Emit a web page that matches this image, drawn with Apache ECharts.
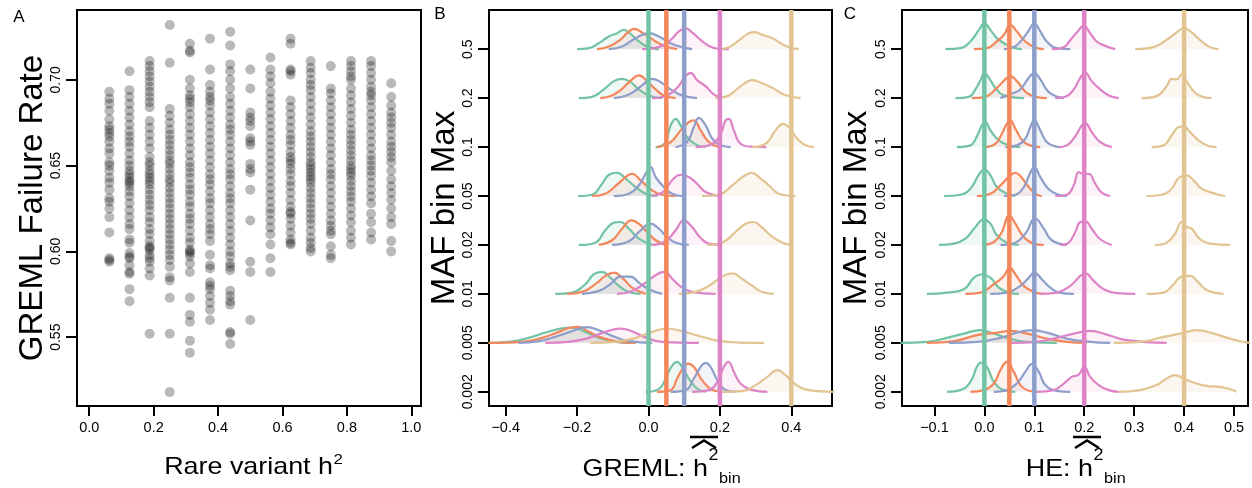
<!DOCTYPE html>
<html><head><meta charset="utf-8">
<script src="https://cdn.jsdelivr.net/npm/echarts@6/dist/echarts.min.js"></script>
<style>html,body{margin:0;padding:0;background:#fff}#c{width:1252px;height:488px}</style>
</head><body><div id="c"></div>
<script>
// ---------- Panel A data ----------
const scatterH2 = [0.0625,0.125,0.1875,0.25,0.3125,0.375,0.4375,0.5,0.5625,0.625,0.6875,0.75,0.8125,0.875,0.9375];
const failureRates = [
 [0.693,0.689,0.686,0.682,0.677,0.673,0.671,0.669,0.667,0.664,0.660,0.657,0.652,0.650,0.647,0.643,0.640,0.636,0.631,0.629,0.625,0.620,0.611,0.596,0.595,0.594],
 [0.705,0.694,0.690,0.686,0.682,0.678,0.674,0.670,0.667,0.664,0.661,0.657,0.653,0.650,0.647,0.645,0.643,0.641,0.640,0.638,0.635,0.632,0.628,0.624,0.620,0.616,0.613,0.607,0.605,0.599,0.597,0.596,0.592,0.588,0.587,0.578,0.571],
 [0.711,0.708,0.705,0.702,0.699,0.696,0.693,0.690,0.687,0.684,0.676,0.672,0.668,0.664,0.660,0.655,0.652,0.650,0.647,0.645,0.643,0.641,0.639,0.636,0.633,0.630,0.627,0.624,0.620,0.617,0.613,0.610,0.606,0.603,0.602,0.601,0.598,0.596,0.594,0.590,0.586,0.552],
 [0.732,0.710,0.683,0.679,0.675,0.671,0.668,0.665,0.662,0.659,0.656,0.653,0.651,0.648,0.645,0.642,0.640,0.637,0.634,0.631,0.628,0.625,0.622,0.619,0.616,0.613,0.610,0.607,0.604,0.601,0.598,0.595,0.591,0.585,0.583,0.573,0.552,0.518],
 [0.721,0.717,0.716,0.700,0.695,0.691,0.689,0.687,0.684,0.680,0.676,0.672,0.668,0.664,0.660,0.656,0.652,0.649,0.646,0.643,0.639,0.636,0.633,0.629,0.626,0.622,0.619,0.616,0.612,0.608,0.605,0.601,0.600,0.599,0.597,0.593,0.588,0.573,0.563,0.559,0.548,0.541],
 [0.724,0.706,0.697,0.693,0.690,0.688,0.685,0.681,0.677,0.673,0.669,0.665,0.661,0.657,0.653,0.649,0.645,0.642,0.639,0.635,0.631,0.628,0.624,0.620,0.616,0.613,0.610,0.606,0.598,0.592,0.590,0.582,0.580,0.578,0.574,0.570,0.566,0.560],
 [0.728,0.720,0.709,0.705,0.700,0.695,0.690,0.686,0.682,0.678,0.674,0.671,0.668,0.664,0.660,0.656,0.652,0.648,0.645,0.642,0.638,0.634,0.631,0.628,0.624,0.620,0.616,0.612,0.608,0.604,0.600,0.597,0.593,0.591,0.589,0.577,0.574,0.571,0.569,0.553,0.552,0.546],
 [0.706,0.695,0.681,0.678,0.676,0.673,0.666,0.664,0.662,0.651,0.648,0.646,0.636,0.618,0.594,0.588,0.560],
 [0.713,0.706,0.702,0.698,0.693,0.689,0.685,0.681,0.677,0.673,0.669,0.665,0.661,0.657,0.653,0.649,0.645,0.641,0.637,0.633,0.629,0.625,0.622,0.618,0.614,0.610,0.604,0.596,0.588],
 [0.724,0.721,0.706,0.705,0.703,0.688,0.684,0.680,0.676,0.672,0.668,0.665,0.662,0.658,0.655,0.653,0.651,0.648,0.645,0.641,0.638,0.634,0.630,0.626,0.623,0.622,0.619,0.615,0.611,0.607,0.605,0.604],
 [0.711,0.707,0.704,0.700,0.697,0.694,0.690,0.686,0.682,0.678,0.674,0.670,0.667,0.664,0.661,0.658,0.655,0.652,0.650,0.648,0.646,0.644,0.642,0.640,0.637,0.634,0.631,0.628,0.625,0.622,0.619,0.616,0.612,0.608,0.605,0.602,0.600],
 [0.708,0.695,0.692,0.688,0.684,0.680,0.676,0.672,0.668,0.664,0.660,0.656,0.652,0.648,0.645,0.642,0.638,0.634,0.630,0.626,0.622,0.618,0.615,0.612,0.610,0.603,0.598,0.596],
 [0.711,0.708,0.705,0.702,0.700,0.695,0.691,0.687,0.683,0.679,0.675,0.671,0.668,0.665,0.662,0.659,0.656,0.653,0.650,0.648,0.646,0.644,0.641,0.638,0.635,0.632,0.629,0.625,0.621,0.617,0.612,0.608,0.604],
 [0.711,0.708,0.704,0.700,0.696,0.693,0.691,0.688,0.684,0.680,0.676,0.672,0.668,0.664,0.660,0.656,0.653,0.650,0.647,0.644,0.640,0.636,0.632,0.628,0.622,0.617,0.611,0.607],
 [0.698,0.690,0.685,0.681,0.678,0.675,0.672,0.668,0.664,0.661,0.658,0.655,0.652,0.647,0.642,0.638,0.634,0.630,0.625,0.620,0.616,0.606,0.600]
];
const xTicksA = [0,0.2,0.4,0.6,0.8,1.0];
const yTicksA = [0.55,0.60,0.65,0.70];

// ---------- Panels B & C data ----------
const mafBins = ['0.002','0.005','0.01','0.02','0.05','0.1','0.2','0.5'];
const trueH2 = [0, 0.05, 0.1, 0.2, 0.4];
const xTicksB = [-0.4,-0.2,0,0.2,0.4];
const xTicksC = [-0.1,0,0.1,0.2,0.3,0.4,0.5];
// each curve: [estimate, density height] pairs; rows bottom (0.002) to top (0.5)
const gremlGreen = [
 [[-0.008,0],[0.029,2.7],[0.048,13.3],[0.064,25],[0.080,30],[0.094,25],[0.113,13.3],[0.136,3.3],[0.160,0]],
 [[-0.448,0],[-0.392,1],[-0.336,5],[-0.289,10.3],[-0.247,14.3],[-0.214,15.3],[-0.177,11],[-0.139,5],[-0.093,1],[-0.046,0]],
 [[-0.261,0],[-0.214,1.3],[-0.177,9.7],[-0.153,19.7],[-0.130,22],[-0.107,16.3],[-0.083,8],[-0.055,2],[-0.022,0]],
 [[-0.195,0],[-0.149,2.3],[-0.121,14.7],[-0.097,22.3],[-0.079,23],[-0.055,16.3],[-0.027,6.3],[0.010,0]],
 [[-0.197,0],[-0.158,1.3],[-0.130,12.3],[-0.111,21.3],[-0.088,23.3],[-0.064,17.3],[-0.036,9],[-0.008,2.3],[0.024,0]],
 [[0.020,0],[0.035,1],[0.048,5],[0.062,21.7],[0.076,28.3],[0.090,21.7],[0.108,10],[0.132,2.7],[0.160,0]],
 [[-0.195,0],[-0.158,1.3],[-0.125,8.7],[-0.097,17],[-0.074,19.3],[-0.050,16],[-0.027,8.7],[0.001,2.7],[0.038,0]],
 [[-0.200,0],[-0.167,1],[-0.139,6],[-0.111,12.7],[-0.088,16],[-0.069,19.3],[-0.050,15.3],[-0.032,9.3],[-0.008,3.3],[0.020,0.3],[0.029,0]]
];
const gremlOrange = [
 [[0.024,0],[0.062,1.7],[0.080,13.3],[0.099,25],[0.111,28.3],[0.127,25],[0.150,11.7],[0.179,1.7],[0.207,0]],
 [[-0.448,0],[-0.354,1],[-0.298,5],[-0.251,11],[-0.219,15.3],[-0.195,16],[-0.167,11],[-0.130,5],[-0.083,1],[-0.036,0]],
 [[-0.228,0],[-0.186,2],[-0.149,9.7],[-0.121,18],[-0.097,21.3],[-0.074,16.3],[-0.046,6.3],[-0.008,0]],
 [[-0.139,0],[-0.102,4.7],[-0.074,16.3],[-0.048,24.7],[-0.027,21.3],[-0.004,13],[0.020,4.7],[0.048,0]],
 [[-0.158,0],[-0.121,2.3],[-0.088,11.3],[-0.064,19],[-0.046,22.3],[-0.022,15.7],[0.010,5.7],[0.038,1.3],[0.076,0]],
 [[0.024,0],[0.062,5],[0.090,16.7],[0.113,25],[0.127,26.7],[0.146,16.7],[0.169,5],[0.197,0]],
 [[-0.135,0],[-0.102,2.7],[-0.074,9.3],[-0.046,18.7],[-0.027,22.7],[-0.004,17],[0.020,8.7],[0.043,2.7],[0.076,0]],
 [[-0.144,0],[-0.111,2.7],[-0.079,9.3],[-0.060,16],[-0.041,20.3],[-0.008,14.3],[0.020,7.7],[0.048,2.7],[0.080,0]]
];
const gremlBlue = [
 [[0.062,0],[0.104,1.7],[0.127,13.3],[0.146,25],[0.160,29],[0.174,25],[0.193,11.7],[0.216,1.7],[0.244,0]],
 [[-0.364,0],[-0.307,1.7],[-0.261,6],[-0.214,11.7],[-0.172,15.7],[-0.139,12.7],[-0.102,7],[-0.055,1.7],[0.010,0]],
 [[-0.186,0],[-0.139,3],[-0.107,9.7],[-0.079,17.3],[-0.050,17.3],[-0.027,11.3],[0.001,4.7],[0.038,0]],
 [[-0.102,0],[-0.055,3.7],[-0.022,14.7],[0.006,21.3],[0.029,16.3],[0.052,8],[0.076,2.3],[0.113,0]],
 [[-0.097,0],[-0.055,2.3],[-0.027,10.7],[-0.008,22.3],[0.006,29],[0.020,19],[0.043,9],[0.066,2.3],[0.094,0]],
 [[0.076,0],[0.108,5],[0.127,20],[0.141,29.3],[0.160,21.7],[0.179,8.3],[0.202,1.7],[0.230,0]],
 [[-0.097,0],[-0.055,3.7],[-0.018,12.7],[0.010,19.3],[0.034,16],[0.062,8.7],[0.094,2.7],[0.136,0]],
 [[-0.111,0],[-0.074,2.7],[-0.036,11],[0.001,16],[0.029,12.7],[0.062,6],[0.094,2],[0.122,0]]
];
const gremlPink = [
 [[0.122,0],[0.169,1.7],[0.193,10],[0.211,25],[0.224,30],[0.239,20],[0.258,8.3],[0.291,1.7],[0.333,0]],
 [[-0.289,0],[-0.223,1],[-0.167,5],[-0.121,11],[-0.079,14.3],[-0.046,11.7],[-0.013,6],[0.038,1],[0.141,0]],
 [[-0.088,0],[-0.046,3],[-0.008,11.3],[0.024,19.7],[0.046,22],[0.066,15.3],[0.094,6.3],[0.122,2],[0.188,0]],
 [[0.010,0],[0.048,3.7],[0.076,14.7],[0.099,24.7],[0.122,18],[0.146,7],[0.169,1.3],[0.206,0]],
 [[0.010,0],[0.043,4.7],[0.066,15.7],[0.090,21.3],[0.113,19],[0.136,12.3],[0.160,4],[0.197,0]],
 [[0.132,0],[0.179,3.3],[0.202,13.3],[0.216,26.7],[0.225,28.3],[0.239,16.7],[0.258,3.3],[0.291,0.3],[0.330,0]],
 [[0.010,0],[0.052,2.7],[0.080,10.3],[0.104,22],[0.118,25.3],[0.136,18],[0.160,12],[0.183,3.7],[0.206,0]],
 [[-0.018,0],[0.029,2],[0.062,9.3],[0.085,17.7],[0.104,21],[0.122,16.7],[0.146,9.3],[0.169,3.3],[0.197,0.3],[0.225,0]]
];
const gremlTan = [
 [[0.207,0],[0.263,0.7],[0.300,6.7],[0.333,15],[0.361,21.7],[0.384,16.7],[0.412,7.3],[0.450,1.7],[0.520,0]],
 [[-0.163,0],[-0.093,1],[-0.036,5],[0.010,11],[0.052,14.3],[0.094,11.7],[0.141,7],[0.197,2],[0.253,0.3],[0.323,0]],
 [[0.085,0],[0.132,2],[0.169,8],[0.206,17.3],[0.235,20.7],[0.263,14.7],[0.291,8],[0.319,2],[0.351,0]],
 [[0.164,0],[0.206,2.3],[0.244,13],[0.272,21.3],[0.295,23],[0.319,17],[0.347,8],[0.375,2.3],[0.398,0]],
 [[0.150,0],[0.197,1.3],[0.235,10.7],[0.263,19],[0.289,23.3],[0.314,17.3],[0.337,10.7],[0.365,2.3],[0.412,0]],
 [[0.291,0],[0.328,3.3],[0.356,16.7],[0.377,23.3],[0.393,20],[0.417,8.3],[0.440,1.7],[0.464,0]],
 [[0.188,0],[0.225,2.7],[0.258,12],[0.291,18],[0.319,14.7],[0.347,10.3],[0.379,3.7],[0.426,0]],
 [[0.193,0],[0.225,2],[0.253,8.7],[0.277,15.3],[0.295,17],[0.319,14.3],[0.347,11],[0.370,6],[0.393,2],[0.421,0]]
];
const heGreen = [
 [[-0.075,0],[-0.048,1.7],[-0.028,10],[-0.015,25],[-0.007,29.3],[0.005,25],[0.019,10],[0.039,1.7],[0.062,0]],
 [[-0.168,0],[-0.115,1],[-0.075,5],[-0.041,9.3],[-0.008,12.7],[0.019,9.3],[0.045,5],[0.085,1],[0.145,0]],
 [[-0.115,0],[-0.075,1.3],[-0.041,4.7],[-0.021,16.3],[-0.005,19.7],[0.012,16.3],[0.029,6.3],[0.049,1.3],[0.069,0]],
 [[-0.091,0],[-0.061,1.3],[-0.038,6.3],[-0.018,18],[-0.001,25.7],[0.012,21.3],[0.025,9.7],[0.045,2.3],[0.069,0]],
 [[-0.081,0],[-0.048,1.3],[-0.028,7.3],[-0.011,21.3],[0,26.7],[0.012,20.7],[0.025,9],[0.045,2.3],[0.062,0]],
 [[-0.055,0],[-0.028,1.7],[-0.015,10.7],[-0.005,21.7],[0.002,25],[0.012,16.7],[0.029,6.7],[0.049,1.7],[0.072,0]],
 [[-0.058,0],[-0.031,1.3],[-0.018,8.7],[-0.007,18.7],[0,25.3],[0.009,20.3],[0.022,10.3],[0.039,2.7],[0.079,0]],
 [[-0.078,0],[-0.048,1],[-0.028,7.7],[-0.011,19.3],[0,26],[0.012,19.3],[0.025,11],[0.045,4.3],[0.062,1],[0.075,0]]
];
const heOrange = [
 [[-0.028,0],[-0.001,1.7],[0.019,8.3],[0.032,21.7],[0.045,30],[0.059,20],[0.072,6.7],[0.089,1],[0.105,0]],
 [[-0.115,0],[-0.061,1.7],[-0.015,7.7],[0.025,10.3],[0.052,12],[0.085,9.3],[0.125,4.3],[0.165,1],[0.205,0]],
 [[-0.038,0],[-0.008,1.3],[0.019,9.7],[0.039,18],[0.051,26.3],[0.062,19.7],[0.079,8],[0.099,2],[0.119,0]],
 [[-0.005,0],[0.019,3],[0.035,13],[0.050,29.7],[0.062,21.3],[0.079,8],[0.099,1.3],[0.119,0]],
 [[-0.015,0],[0.012,2.3],[0.032,10.7],[0.052,20.7],[0.062,23.3],[0.072,20],[0.089,9],[0.105,1.3],[0.115,0]],
 [[-0.001,0],[0.022,3.3],[0.035,13.3],[0.045,23.3],[0.052,26.7],[0.062,18.3],[0.079,5],[0.099,0.7],[0.112,0]],
 [[-0.025,0],[0.002,1.3],[0.025,10.3],[0.045,20.3],[0.052,22],[0.065,17],[0.085,5.3],[0.105,1],[0.125,0]],
 [[-0.021,0],[0.005,1],[0.025,7.7],[0.039,14.3],[0.052,24.3],[0.065,17.7],[0.082,7.7],[0.102,1.7],[0.119,0]]
];
const heBlue = [
 [[0.019,0],[0.045,1.7],[0.065,8.3],[0.082,20],[0.095,27.7],[0.109,20],[0.122,6.7],[0.145,1],[0.172,0]],
 [[-0.071,0],[-0.015,1],[0.032,5],[0.065,10.3],[0.095,12.7],[0.125,10.3],[0.165,4.3],[0.212,1],[0.252,0]],
 [[0.012,0],[0.045,1.3],[0.072,8],[0.089,16.3],[0.100,21.3],[0.115,14.7],[0.132,6.3],[0.152,1],[0.179,0]],
 [[0.032,0],[0.062,2.3],[0.082,11.3],[0.102,26.5],[0.119,16.3],[0.135,4.7],[0.165,0]],
 [[0.039,0],[0.062,1.3],[0.079,9],[0.092,23.3],[0.100,29],[0.112,19],[0.129,6.7],[0.149,1.3],[0.165,0]],
 [[0.042,0],[0.065,1.7],[0.082,8.3],[0.092,20],[0.100,26.7],[0.112,16.7],[0.125,5],[0.142,0.7],[0.152,0]],
 [[0.032,0],[0.059,5.3],[0.072,8.7],[0.089,20.3],[0.100,25.3],[0.112,18.7],[0.129,6],[0.149,1],[0.159,0]],
 [[0.039,0],[0.059,2],[0.075,9.3],[0.089,18.7],[0.100,26],[0.112,17.7],[0.125,7.7],[0.145,1],[0.172,0]]
];
const hePink = [
 [[0.105,0],[0.139,1.7],[0.159,8.3],[0.175,15],[0.189,17.3],[0.200,25],[0.212,15],[0.229,6.7],[0.249,1.7],[0.269,0]],
 [[0.052,0],[0.105,1],[0.145,5],[0.179,9.3],[0.212,12],[0.245,8.3],[0.285,2.7],[0.365,0]],
 [[0.112,0],[0.145,1.3],[0.172,8],[0.192,18],[0.202,20.7],[0.219,13],[0.239,4.7],[0.265,0.7],[0.302,0]],
 [[0.152,0],[0.169,2.3],[0.182,13],[0.192,23],[0.202,23.7],[0.215,16.3],[0.232,5.7],[0.255,0]],
 [[0.142,0],[0.165,1.3],[0.179,10.7],[0.189,24],[0.197,22.3],[0.209,22.3],[0.222,12.3],[0.235,3.3],[0.252,0]],
 [[0.149,0],[0.165,1.7],[0.182,10.7],[0.195,21.7],[0.202,24],[0.215,15],[0.232,5],[0.255,0]],
 [[0.142,0],[0.162,1.3],[0.179,8.7],[0.192,20.3],[0.202,25.3],[0.215,17],[0.232,8.7],[0.249,2.7],[0.269,0]],
 [[0.135,0],[0.159,2],[0.175,11],[0.185,16.7],[0.199,23.3],[0.212,16],[0.225,7.7],[0.242,3.3],[0.262,0]]
];
const heTan = [
 [[0.269,0],[0.312,1.7],[0.345,6.7],[0.365,13.3],[0.382,16.7],[0.399,13.3],[0.419,9.3],[0.445,6],[0.472,5],[0.492,2.7],[0.505,0]],
 [[0.259,0],[0.312,1],[0.359,6],[0.392,9.3],[0.425,12.7],[0.459,9.3],[0.492,4.3],[0.529,0.3],[0.560,0]],
 [[0.325,0],[0.359,1.3],[0.379,9.7],[0.395,17.3],[0.412,18],[0.429,11.3],[0.445,4],[0.479,0]],
 [[0.342,0],[0.365,2.3],[0.382,11.3],[0.395,23],[0.405,18],[0.415,16.3],[0.432,5.7],[0.452,1.3],[0.492,0]],
 [[0.325,0],[0.355,1.3],[0.375,7.3],[0.389,18],[0.405,20.7],[0.419,15.7],[0.435,7.3],[0.452,4],[0.469,1.3],[0.482,0]],
 [[0.335,0],[0.359,1.7],[0.375,11.7],[0.389,20],[0.399,20.7],[0.412,15],[0.429,6.7],[0.449,1],[0.465,0]],
 [[0.315,0],[0.345,2],[0.365,12],[0.375,19.3],[0.385,18.7],[0.395,23.7],[0.405,17],[0.422,5.3],[0.439,1],[0.455,0]],
 [[0.302,0],[0.339,2],[0.365,9.3],[0.385,16.7],[0.400,21],[0.415,16.7],[0.435,7.7],[0.452,2],[0.469,0]]
];
const densityPerRow = 49; // density height units per ridge row

// ---------- styling ----------
const FONT = '"Liberation Sans", Arial, Helvetica, sans-serif';
const lineColors = ['#72C3A3','#F3875B','#8E9ECB','#DD83C6','#E2C492'];
const fillColors = ['rgba(102,194,165,0.16)','rgba(252,141,98,0.16)','rgba(141,160,203,0.16)','rgba(231,138,195,0.16)','rgba(229,196,148,0.2)'];
const yMinR = 0.71, yMaxR = 8.80;

const fmtNeg = v => (v < 0 ? '\u2212' : '') + Math.abs(v).toFixed(1);
function xAxisCfg(gi, min, max, ticks, fmt) {
  return {type:'value', gridIndex:gi, min, max, splitLine:{show:false},
    axisLine:{show:false, onZero:false},
    axisTick:{show:true, length:10, lineStyle:{color:'#000', width:2}, customValues:ticks},
    axisLabel:{customValues:ticks, formatter:fmt, color:'#000', fontSize:14.5, fontFamily:FONT, margin:14}};
}
function yAxisCfg(gi, min, max, ticks, fmt) {
  return {type:'value', gridIndex:gi, min, max, splitLine:{show:false},
    axisLine:{show:false, onZero:false},
    axisTick:{show:true, length:11, lineStyle:{color:'#000', width:2}, customValues:ticks},
    axisLabel:{customValues:ticks, formatter:fmt, rotate:90, color:'#000', fontSize:14, fontFamily:FONT, margin:14}};
}

const series = [];
// Panel A scatter
const scatterData = [];
scatterH2.forEach((x, i) => failureRates[i].forEach(y => scatterData.push([x, y])));
series.push({type:'scatter', xAxisIndex:0, yAxisIndex:0, data:scatterData, symbolSize:10,
  itemStyle:{color:'rgba(0,0,0,0.34)'}, silent:true});

function addRidges(gi, sets) {
  for (let r = mafBins.length - 1; r >= 0; r--) {
    sets.forEach((set, c) => {
      const base = r + 1;
      series.push({type:'line', xAxisIndex:gi, yAxisIndex:gi, silent:true, z:2,
        data: set[r].map(([x, h]) => [x, base + h / densityPerRow]),
        smooth:0.45, symbol:'none', clip:true,
        lineStyle:{color:lineColors[c], width:2.2},
        areaStyle:{color:fillColors[c], origin:base}});
    });
  }
  trueH2.forEach((v, c) => series.push({type:'line', xAxisIndex:gi, yAxisIndex:gi, silent:true, z:3,
    data:[[v, yMinR],[v, yMaxR]], symbol:'none', lineStyle:{color:lineColors[c], width:4.5}}));
}
addRidges(1, [gremlGreen, gremlOrange, gremlBlue, gremlPink, gremlTan]);
addRidges(2, [heGreen, heOrange, heBlue, hePink, heTan]);

function txt(x, y, text, fs, align, extra) {
  return Object.assign({type:'text', x, y, style:{text, fontSize:fs, fontFamily:FONT, fill:'#000', align, verticalAlign:'middle'}}, extra || {});
}
const SX = 1.12;
const gridBase = {top:10, height:396, show:true, borderColor:'#000', borderWidth:2, backgroundColor:'transparent'};
const option = {
  animation:false,
  backgroundColor:'#fff',
  grid:[Object.assign({left:77, width:344}, gridBase),
        Object.assign({left:489, width:343}, gridBase),
        Object.assign({left:902, width:346}, gridBase)],
  xAxis:[xAxisCfg(0, -0.038, 1.030, xTicksA, v => v.toFixed(1)),
         xAxisCfg(1, -0.4468, 0.514, xTicksB, fmtNeg),
         xAxisCfg(2, -0.165, 0.528, xTicksC, fmtNeg)],
  yAxis:[yAxisCfg(0, 0.5099, 0.7407, yTicksA, v => v.toFixed(2)),
         yAxisCfg(1, yMinR, yMaxR, [1,2,3,4,5,6,7,8], v => mafBins[Math.round(v) - 1]),
         yAxisCfg(2, yMinR, yMaxR, [1,2,3,4,5,6,7,8], v => mafBins[Math.round(v) - 1])],
  series,
  graphic:[
    txt(19, 17, 'A', 17, 'center'),
    txt(440, 14, 'B', 17, 'center'),
    txt(850, 14, 'C', 17, 'center'),
    txt(33, 208, 'GREML Failure Rate', 33, 'center', {rotation:Math.PI/2}),
    txt(445, 208, 'MAF bin Max', 33, 'center', {rotation:Math.PI/2}),
    txt(857, 208, 'MAF bin Max', 33, 'center', {rotation:Math.PI/2}),
    // x titles
    txt(333, 467.8, 'Rare variant h', 24, 'right', {scaleX:SX}),
    txt(333.5, 459.5, '2', 15, 'left', {scaleX:SX}),
    txt(708, 469.8, 'GREML: h', 24, 'right', {scaleX:SX}),
    txt(708.5, 455.2, '2', 16, 'left', {scaleX:SX}),
    txt(719, 478.8, 'bin', 14.5, 'left', {scaleX:SX}),
    txt(1093, 469.8, 'HE: h', 24, 'right', {scaleX:SX}),
    txt(1093.5, 455.2, '2', 16, 'left', {scaleX:SX}),
    txt(1104, 478.8, 'bin', 14.5, 'left', {scaleX:SX}),
    {type:'line', shape:{x1:690, y1:437, x2:718, y2:437}, style:{stroke:'#000', lineWidth:2.5}},
    {type:'polyline', shape:{points:[[692,448],[704,440.5],[716,448]]}, style:{stroke:'#000', lineWidth:2.5, fill:null}},
    {type:'line', shape:{x1:1073, y1:437, x2:1101, y2:437}, style:{stroke:'#000', lineWidth:2.5}},
    {type:'polyline', shape:{points:[[1075,448],[1087,440.5],[1099,448]]}, style:{stroke:'#000', lineWidth:2.5, fill:null}}
  ]
};
const chart = echarts.init(document.getElementById('c'), null, {renderer:'canvas'});
chart.setOption(option);
</script></body></html>
